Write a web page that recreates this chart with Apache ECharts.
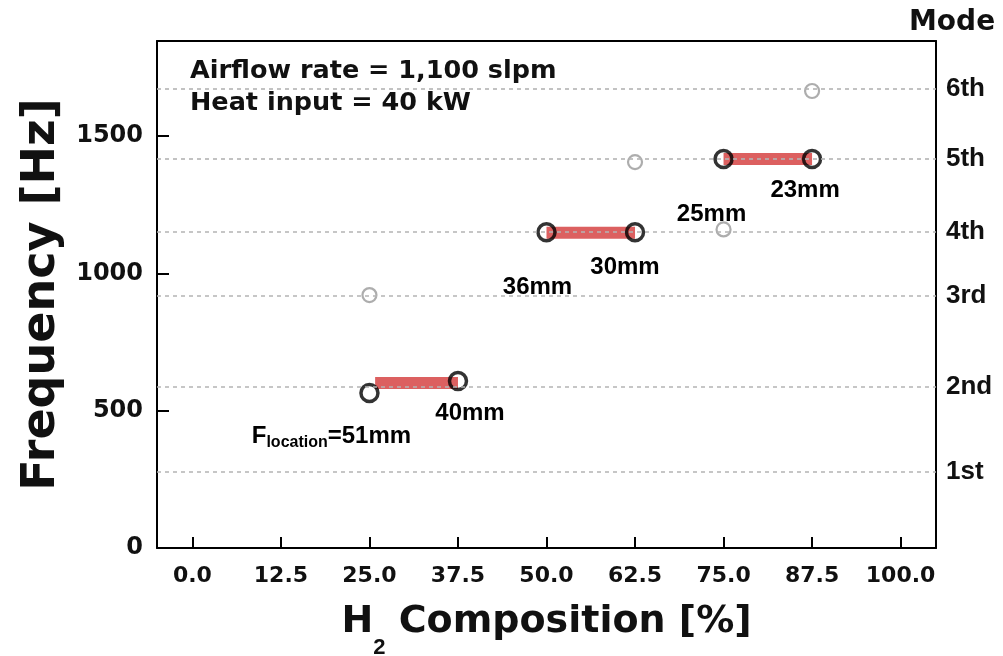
<!DOCTYPE html>
<html>
<head>
<meta charset="utf-8">
<script src="https://cdn.jsdelivr.net/npm/echarts@6/dist/echarts.min.js"></script>
<style>
  html, body { margin: 0; padding: 0; background: #fff; }
  #chart { width: 1003px; height: 656px; }
</style>
</head>
<body>
<div id="chart"></div>
<script>
// Axis ticks
const xTicks = [0, 12.5, 25, 37.5, 50, 62.5, 75, 87.5, 100];
const yTicks = [0, 500, 1000, 1500];

// Acoustic modes of the combustor (Hz)
const modeNames = ['1st', '2nd', '3rd', '4th', '5th', '6th'];
const modeFreqs = [277, 586, 917, 1150, 1416, 1671];

// Secondary (weak) peaks: H2 composition [%] and frequency [Hz]
const weakH2 = [25, 62.5, 75, 87.5];
const weakFreq = [921, 1405, 1160, 1664];

// Dominant peaks
const mainH2 = [25, 37.5, 50, 62.5, 75, 87.5];
const mainFreq = [564, 608, 1150, 1150, 1416, 1416];
const flameLoc = ['F{sub|location}=51mm', '40mm', '36mm', '30mm', '25mm', '23mm'];

// Mode-hopping bands between dominant peaks
const bandStart = [25.8, 50, 75];
const bandEnd = [37.5, 62.5, 87.5];
const bandFreq = [601, 1148, 1416];

const TEXT = '#111';
const DV = '"DejaVu Sans"';
const LIB = '"Liberation Sans", Arial';

// label offsets (px) of the flame-location notes around each dominant peak
const noteOffsets = [[-38, 43], [12, 32], [-9, 55], [-10, 35], [-12, 55], [-7, 31]];

const chart = echarts.init(document.getElementById('chart'), null, { renderer: 'canvas' });

const option = {
  animation: false,
  backgroundColor: '#fff',
  grid: { left: 157, right: 67, top: 41, bottom: 108, containLabel: false, outerBoundsMode: 'none' },
  xAxis: [
    {
      type: 'value', position: 'bottom', min: -5, max: 105,
      axisLine: { onZero: false, lineStyle: { color: '#000', width: 2 } },
      axisTick: { inside: true, length: 11, lineStyle: { color: '#000', width: 2 }, customValues: xTicks },
      axisLabel: {
        customValues: xTicks, margin: 17,
        formatter: v => v.toFixed(1),
        color: TEXT, fontFamily: DV, fontWeight: 'bold', fontSize: 22
      },
      splitLine: { show: false },
      name: '{a|H}{s|2}{a| Composition [%]}',
      nameLocation: 'middle', nameGap: 55,
      nameTextStyle: {
        rich: {
          a: { fontFamily: DV, fontWeight: 'bold', fontSize: 38, color: TEXT, lineHeight: 44, verticalAlign: 'top' },
          s: { fontFamily: LIB, fontWeight: 'bold', fontSize: 22, color: TEXT, lineHeight: 56, verticalAlign: 'bottom' }
        }
      }
    },
    {
      type: 'value', position: 'top', min: -5, max: 105,
      axisLine: { onZero: false, lineStyle: { color: '#000', width: 2 } },
      axisTick: { show: false }, axisLabel: { show: false }, splitLine: { show: false }
    }
  ],
  yAxis: [
    {
      type: 'value', position: 'left', min: 0, max: 1846,
      axisLine: { show: true, onZero: false, lineStyle: { color: '#000', width: 2 } },
      axisTick: { show: true, inside: true, length: 12, lineStyle: { color: '#000', width: 2 }, customValues: yTicks },
      axisLabel: {
        customValues: yTicks, margin: 14,
        formatter: v => String(v),
        color: TEXT, fontFamily: DV, fontWeight: 'bold', fontSize: 24
      },
      splitLine: { show: false },
      name: 'Frequency [Hz]', nameLocation: 'middle', nameGap: 92, nameRotate: 90,
      nameTextStyle: { fontFamily: DV, fontWeight: 'bold', fontSize: 46, color: TEXT }
    },
    {
      type: 'value', position: 'right', min: 0, max: 1846,
      axisLine: { show: true, onZero: false, lineStyle: { color: '#000', width: 2 } },
      axisTick: { show: false },
      axisLabel: {
        customValues: modeFreqs, margin: 10,
        formatter: v => modeNames[modeFreqs.indexOf(v)] || '',
        color: TEXT, fontFamily: LIB, fontWeight: 'bold', fontSize: 26
      },
      splitLine: { show: false }
    }
  ],
  series: [
    {
      name: 'weak peaks', type: 'scatter', z: 2,
      xAxisIndex: 0, yAxisIndex: 0,
      data: weakH2.map((h, i) => [h, weakFreq[i]]),
      symbol: 'circle', symbolSize: 14,
      itemStyle: { color: '#fff', borderColor: '#999', borderWidth: 2.2 },
      markLine: {
        silent: true, symbol: 'none', label: { show: false },
        lineStyle: { color: '#b4b4b4', width: 1.6, type: [4, 4] },
        data: modeFreqs.map(f => ({ yAxis: f }))
      }
    },
    {
      name: 'mode hopping', type: 'custom', z: 3,
      xAxisIndex: 0, yAxisIndex: 0,
      data: bandStart.map((s, i) => [s, bandEnd[i], bandFreq[i]]),
      encode: { x: [0, 1], y: 2 },
      renderItem: function (params, api) {
        const p0 = api.coord([api.value(0), api.value(2)]);
        const p1 = api.coord([api.value(1), api.value(2)]);
        const h = 12;
        return {
          type: 'rect',
          shape: { x: p0[0], y: p0[1] - h / 2, width: p1[0] - p0[0], height: h },
          style: { fill: 'rgba(214, 68, 68, 0.85)' }
        };
      }
    },
    {
      name: 'dominant peaks', type: 'scatter', z: 4,
      xAxisIndex: 0, yAxisIndex: 0,
      data: mainH2.map((h, i) => ({
        value: [h, mainFreq[i]],
        label: {
          show: true, position: 'inside', offset: noteOffsets[i],
          formatter: flameLoc[i], color: '#000', opacity: 1
        }
      })),
      symbol: 'circle', symbolSize: 17,
      itemStyle: { color: 'rgba(255,255,255,0)', borderColor: '#000', borderWidth: 3.5 },
      label: {
        color: '#000', opacity: 1, fontFamily: LIB, fontWeight: 'bold', fontSize: 24,
        lineHeight: 28,
        rich: {
          sub: { fontFamily: LIB, fontWeight: 'bold', fontSize: 16, color: '#000', lineHeight: 28, verticalAlign: 'bottom' }
        }
      }
    }
  ],
  graphic: [
    {
      type: 'text', x: 190, y: 71, z: 10,
      style: { text: 'Airflow rate = 1,100 slpm', font: 'bold 25.5px "DejaVu Sans"', fill: TEXT, align: 'left', verticalAlign: 'middle' }
    },
    {
      type: 'text', x: 190, y: 103, z: 10,
      style: { text: 'Heat input = 40 kW', font: 'bold 25.5px "DejaVu Sans"', fill: TEXT, align: 'left', verticalAlign: 'middle' }
    },
    {
      type: 'text', x: 909, y: 23, z: 10,
      style: { text: 'Mode', font: 'bold 28px "DejaVu Sans"', fill: TEXT, align: 'left', verticalAlign: 'middle' }
    }
  ]
};

chart.setOption(option);
</script>
</body>
</html>
